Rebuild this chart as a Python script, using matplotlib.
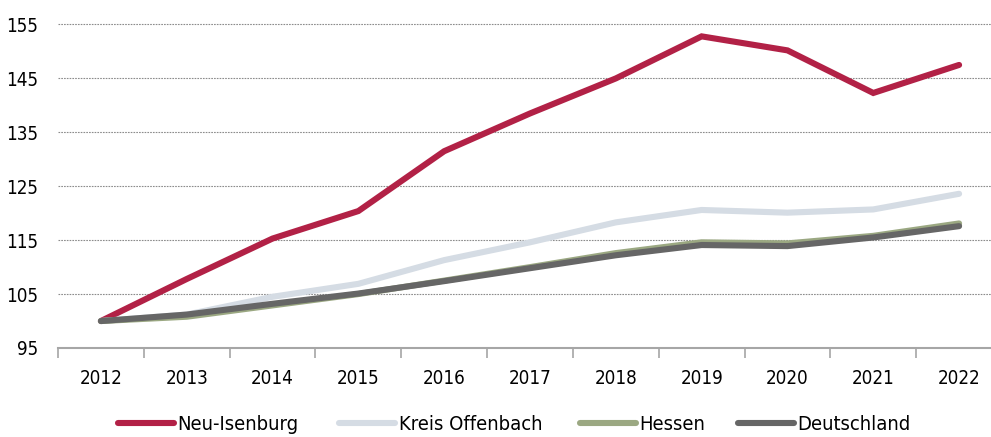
import numpy as np
import matplotlib.pyplot as plt
from matplotlib.font_manager import FontProperties

years = ["2012", "2013", "2014", "2015", "2016", "2017", "2018", "2019", "2020", "2021", "2022"]
neu_isenburg = [100.0, 107.8, 115.3, 120.4, 131.5, 138.5, 145.0, 152.8, 150.2, 142.3, 147.5]
kreis_offenbach = [100.0, 101.2, 104.5, 106.9, 111.3, 114.6, 118.3, 120.6, 120.1, 120.7, 123.6]
hessen = [100.0, 100.8, 102.9, 105.0, 107.5, 110.0, 112.6, 114.6, 114.4, 115.8, 118.1]
deutschland = [100.0, 101.2, 103.2, 105.1, 107.4, 109.8, 112.2, 114.1, 113.9, 115.5, 117.6]
y_ticks = [95, 105, 115, 125, 135, 145, 155]

W, H = 991, 437
fig = plt.figure(figsize=(W / 100, H / 100), dpi=100)
left, right, top, bottom = 58, 1002, 24.5, 348
ax = fig.add_axes([left / W, 1 - bottom / H, (right - left) / W, (bottom - top) / H])

x = np.arange(len(years))
series = [
    (neu_isenburg, "#B22146", "Neu-Isenburg"),
    (kreis_offenbach, "#D5DCE4", "Kreis Offenbach"),
    (hessen, "#9BA882", "Hessen"),
    (deutschland, "#666666", "Deutschland"),
]
lines = []
for vals, col, lab in series:
    ln, = ax.plot(x, vals, color=col, lw=4.4, label=lab, solid_capstyle="round",
                  solid_joinstyle="miter", zorder=3)
    lines.append(ln)

ax.set_xlim(-0.5, len(years) - 0.5)
ax.set_ylim(95, 155)
ax.set_yticks(y_ticks)
for yv in y_ticks[1:]:
    ax.axhline(yv, color="#8c8c8c", lw=0.8, ls=(0, (1.5, 1)), zorder=1, clip_on=False)

tick_font = FontProperties(family="DejaVu Sans", stretch="condensed", size=13.5)
ax.set_xticks(x)
ax.set_xticklabels(years, fontproperties=tick_font)
ax.set_yticklabels([str(v) for v in y_ticks], fontproperties=tick_font)
ax.set_xticks(np.arange(-0.5, len(years), 1.0), minor=True)
ax.tick_params(axis="x", which="major", length=0, pad=15)
ax.tick_params(axis="x", which="minor", length=7, width=1.2, color="#a6a6a6", direction="out")
ax.tick_params(axis="y", length=0, pad=14)

for s in ["top", "right", "left"]:
    ax.spines[s].set_visible(False)
ax.spines["bottom"].set_color("#a6a6a6")
ax.spines["bottom"].set_linewidth(1.5)

# one legend per entry so the handles sit where the reference puts them
leg_font = FontProperties(family="DejaVu Sans", stretch="condensed", size=14.5)
handle_x = [118, 339, 580, 738]
for ln, hx in zip(lines, handle_x):
    fig.legend([ln], [ln.get_label()], loc="center left",
               bbox_to_anchor=(hx / W, 1 - 425 / H), frameon=False,
               handlelength=2.78, handletextpad=0.18, borderpad=0, borderaxespad=0,
               prop=leg_font)

fig.savefig("out.png", dpi=100)
